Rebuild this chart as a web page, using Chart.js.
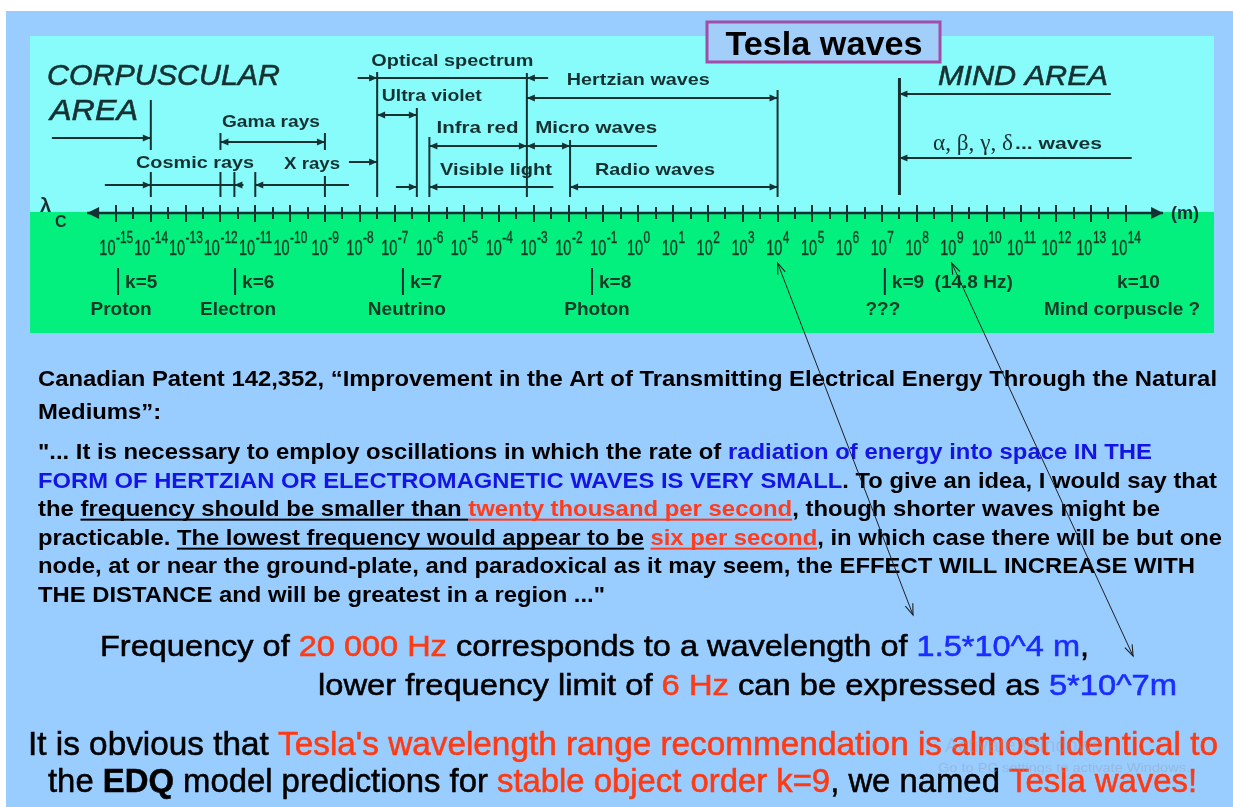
<!DOCTYPE html>
<html>
<head>
<meta charset="utf-8">
<title>Tesla waves</title>
<script src="https://cdn.jsdelivr.net/npm/chart.js@4.4.1/dist/chart.umd.min.js"></script>
<style>
    html, body { margin: 0; padding: 0; background: #ffffff; }
    canvas { display: block; }
</style>
</head>
<body>
<canvas id="graficoOndas" width="1233" height="807"></canvas>
<script>
// expoentes do eixo de comprimento de onda (10^n m)
const expoentes = [-15, -14, -13, -12, -11, -10, -9, -8, -7, -6, -5, -4, -3, -2, -1, 0, 1, 2, 3, 4, 5, 6, 7, 8, 9, 10, 11, 12, 13, 14];

// faixas do espectro, log10 do comprimento de onda em metros
const nomesFaixas = ['Cosmic rays', 'Gama rays', 'X rays', 'Optical spectrum', 'Ultra violet', 'Visible light', 'Infra red', 'Hertzian waves', 'Micro waves', 'Radio waves'];
const inicioFaixas = [-14, -12, -11, -7.5, -7.5, -6.36, -6, -3.2, -3.2, -1.96];
const fimFaixas = [-11.6, -9, -7.5, -3.2, -6.36, -6, -3.2, 4, -1.96, 4];

// limites das areas
const nomesAreas = ['CORPUSCULAR AREA', 'MIND AREA'];
const limitesAreas = [-14, 7.5];

// ordens k do modelo EDQ
const ordensK = [5, 6, 7, 8, 9, 10];
const lambdaK = [-14.94, -11.58, -6.76, -1.33, 7.08, 13.55];
const particulasK = ['Proton', 'Electron', 'Neutrino', 'Photon', '???', 'Mind corpuscle ?'];
const notasK = ['', '', '', '', '(14.8 Hz)', ''];
const barraK = [true, true, true, true, true, false];

// comprimentos de onda apontados pelas setas finas
const lambdaTesla = [4, 9];

// ---- layout ----
const W = 1233, H = 807;
const EIXO_Y = 213;
const PX_DECADA = 34.82, X_MENOS15 = 116;
const xMin = -15 - X_MENOS15 / PX_DECADA;
const xMax = xMin + W / PX_DECADA;

const TINTA = '#163131';
const PRETO = '#000000', AZUL = '#1414e4', VERMELHO = '#ff3c1c';
const SANS = '"Liberation Sans", Arial, sans-serif';
const SERIF = '"Liberation Serif", "DejaVu Serif", serif';

const idx = nome => nomesFaixas.indexOf(nome);
const ini = nome => inicioFaixas[idx(nome)];
const fim = nome => fimFaixas[idx(nome)];

// setas horizontais: [y, de, ate, ponta no inicio, ponta no fim]
const setas = [
    [138, limitesAreas[0] - 2.84, limitesAreas[0], 0, 1],
    [142, ini('Gama rays'), fim('Gama rays'), 1, 1],
    [185, ini('Cosmic rays') - 1.32, ini('Cosmic rays'), 0, 1],
    [185, ini('Cosmic rays'), fim('Cosmic rays'), 0, 0],
    [185, fim('Cosmic rays') + 0.26, fim('Cosmic rays'), 0, 1],
    [185, ini('X rays'), fim('X rays') - 0.81, 1, 0],
    [162, fim('X rays') - 0.81, fim('X rays'), 0, 1],
    [78, ini('Optical spectrum') - 0.56, ini('Optical spectrum'), 0, 1],
    [78, ini('Optical spectrum'), fim('Optical spectrum'), 0, 0],
    [78, fim('Optical spectrum') + 0.61, fim('Optical spectrum'), 0, 1],
    [115, ini('Ultra violet'), fim('Ultra violet'), 1, 1],
    [187, ini('Visible light') - 0.6, ini('Visible light'), 0, 1],
    [187, fim('Visible light'), fim('Visible light') + 3.56, 1, 0],
    [146, ini('Infra red'), fim('Infra red'), 1, 1],
    [98, ini('Hertzian waves'), fim('Hertzian waves'), 1, 1],
    [146, ini('Micro waves'), fim('Micro waves'), 1, 1],
    [146, fim('Micro waves'), fim('Micro waves') + 2.5, 0, 0],
    [187, ini('Radio waves'), fim('Radio waves'), 1, 1],
    [94, limitesAreas[1] + 6.07, limitesAreas[1], 0, 1],
    [158, limitesAreas[1] + 6.67, limitesAreas[1], 0, 1]
];

// divisas verticais: [x, y1, y2]
const divisas = [
    [limitesAreas[0], 100, 150], [limitesAreas[0], 172, 197],
    [ini('Gama rays'), 133, 150], [ini('Gama rays'), 172, 197],
    [fim('Cosmic rays'), 172, 197],
    [ini('X rays'), 172, 197],
    [fim('Gama rays'), 133, 150], [fim('Gama rays'), 176, 197],
    [ini('Optical spectrum'), 72, 197],
    [fim('Ultra violet'), 108, 197],
    [ini('Infra red'), 137, 197],
    [fim('Optical spectrum'), 73, 197],
    [fim('Micro waves'), 140, 197],
    [fim('Hertzian waves'), 90, 197]
];

// rotulos das faixas: [texto, centro (log10 m), linha de base, largura]
const rotulosFaixas = [
    ['Optical spectrum', -5.34, 66, 162],
    ['Hertzian waves', 0, 85, 143],
    ['Ultra violet', -5.93, 101, 100],
    ['Infra red', -4.62, 133, 82],
    ['Micro waves', -1.21, 133, 122],
    ['Visible light', -4.09, 175, 112],
    ['Radio waves', 0.48, 175, 120],
    ['Gama rays', -10.55, 127, 98],
    ['Cosmic rays', -12.73, 168, 118],
    ['X rays', -9.37, 169, 56]
];
const deslocNomes = [3, 3, 4, 5, -2, 12];

// ---- conjuntos de dados ----
const conjuntos = [];
function linha(pontos, largura, pontas, ponta, cor, aberta) {
    conjuntos.push({
        data: pontos,
        borderColor: cor || TINTA,
        borderWidth: largura,
        pointRadius: 0,
        pointHoverRadius: 0,
        fill: false,
        tension: 0,
        pontas: pontas || [0, 0],
        ponta: ponta || [8, 3.5],
        pontaAberta: !!aberta
    });
}

// eixo principal
linha([{x: -15.83, y: EIXO_Y}, {x: 15.07, y: EIXO_Y}], 2.5, [1, 1], [12, 6]);

setas.forEach(s => linha([{x: s[1], y: s[0]}, {x: s[2], y: s[0]}], 2, [s[3], s[4]]));
divisas.forEach(d => linha([{x: d[0], y: d[1]}, {x: d[0], y: d[2]}], 2));
linha([{x: limitesAreas[1], y: 78}, {x: limitesAreas[1], y: 195}], 3);

for (var i = 0; i < ordensK.length; i++) {
    if (barraK[i]) linha([{x: lambdaK[i], y: 268}, {x: lambdaK[i], y: 295}], 2);
}

// setas finas do texto ate o eixo
linha([{x: lambdaTesla[0], y: 263}, {x: 7.89, y: 615}], 1, [1, 1], [11, 4], '#202020', true);
linha([{x: lambdaTesla[1], y: 263}, {x: 14.21, y: 656}], 1, [1, 1], [11, 4], '#202020', true);

// ---- texto ----
function escrever(ctx, texto, x, y, op) {
    ctx.save();
    ctx.font = (op.estilo || 'normal') + ' ' + (op.peso || 'bold') + ' ' + op.tam + 'px ' + (op.familia || SANS);
    ctx.fillStyle = op.cor || TINTA;
    ctx.textBaseline = 'alphabetic';
    ctx.textAlign = 'left';
    const nat = ctx.measureText(texto).width;
    const sx = op.larg ? op.larg / nat : (op.sx || 1);
    const w = nat * sx;
    let x0 = x;
    if (op.alinhar === 'center') x0 = x - w / 2;
    ctx.translate(x0, y);
    ctx.scale(sx, 1);
    ctx.fillText(texto, 0, 0);
    if (op.contorno) {
        ctx.strokeStyle = ctx.fillStyle;
        ctx.lineWidth = op.contorno;
        ctx.strokeText(texto, 0, 0);
    }
    ctx.restore();
    return w;
}

// partes: [texto, cor, sublinhado, peso]; larg nula repete a escala anterior
var escalaAnterior = 1;
function linhaRica(ctx, partes, x, y, tam, peso, larg, contorno) {
    ctx.save();
    ctx.textBaseline = 'alphabetic';
    const fonte = p => (p[3] || peso) + ' ' + tam + 'px ' + SANS;
    const ws = partes.map(p => { ctx.font = fonte(p); return ctx.measureText(p[0]).width; });
    const total = ws.reduce((a, b) => a + b, 0);
    const sx = larg ? larg / total : escalaAnterior;
    escalaAnterior = sx;
    ctx.translate(x, y);
    ctx.scale(sx, 1);
    let cx = 0;
    partes.forEach((p, i) => {
        ctx.font = fonte(p);
        ctx.fillStyle = p[1];
        ctx.fillText(p[0], cx, 0);
        if (contorno) {
            ctx.strokeStyle = p[1];
            ctx.lineWidth = contorno;
            ctx.strokeText(p[0], cx, 0);
        }
        if (p[2]) ctx.fillRect(cx, tam * 0.12, ws[i], 2);
        cx += ws[i];
    });
    ctx.restore();
}

const paragrafo = [
    [[['Canadian Patent 142,352, \u201cImprovement in the Art of Transmitting Electrical Energy Through the Natural', PRETO]], 386, 1179],
    [[['Mediums\u201d:', PRETO]], 419, null],
    [[['"... It is necessary to employ oscillations in which the rate of ', PRETO], ['radiation of energy into space IN THE', AZUL]], 459, 1114],
    [[['FORM OF HERTZIAN OR ELECTROMAGNETIC WAVES IS VERY SMALL', AZUL], ['. To give an idea, I would say that', PRETO]], 488, 1179],
    [[['the ', PRETO], ['frequency should be smaller than ', PRETO, 1], ['twenty thousand per second', VERMELHO, 1], [', though shorter waves might be', PRETO]], 516, 1122],
    [[['practicable. ', PRETO], ['The lowest frequency would appear to be', PRETO, 1], [' ', PRETO], ['six per second', VERMELHO, 1], [', in which case there will be but one', PRETO]], 545, 1184],
    [[['node, at or near the ground-plate, and paradoxical as it may seem, the EFFECT WILL INCREASE WITH', PRETO]], 573, 1157],
    [[['THE DISTANCE and will be greatest in a region ..."', PRETO]], 602, 567]
];

const frases = [
    [[['Frequency of ', PRETO], ['20 000 Hz', '#ff3a12'], [' corresponds to a wavelength of ', PRETO], ['1.5*10^4 m', '#1a2cff'], [',', PRETO]], 100, 656, 30, 989],
    [[['lower frequency limit of ', PRETO], ['6 Hz', '#ff3a12'], [' can be expressed as ', PRETO], ['5*10^7m', '#1a2cff']], 318, 695, 30, 859],
    [[['It is obvious that ', PRETO], ["Tesla's wavelength range recommendation is almost identical to", '#ff3a12']], 28, 755, 33, 1190],
    [[['the ', PRETO], ['EDQ', PRETO, 0, 'bold'], [' model predictions for ', PRETO], ['stable object order k=9', '#ff3a12'], [', we named ', PRETO], ['Tesla waves!', '#ff3a12']], 48, 792, 33, 1149]
];

const fundoPlugin = {
    id: 'fundo',
    beforeDraw(chart) {
        const ctx = chart.ctx;
        ctx.save();
        ctx.fillStyle = '#ffffff';
        ctx.fillRect(0, 0, W, H);
        ctx.fillStyle = '#99ccff';
        ctx.fillRect(6, 11, W - 6, H - 11);
        ctx.fillStyle = '#88fbfb';
        ctx.fillRect(30, 36, 1184, 176);
        ctx.fillStyle = '#04f07e';
        ctx.fillRect(30, 212, 1184, 121);
        ctx.restore();
    }
};

const textosPlugin = {
    id: 'textos',
    beforeDatasetsDraw(chart) {
        const ctx = chart.ctx;
        const xs = chart.scales.x;

        // caixa Tesla waves
        ctx.save();
        ctx.fillStyle = '#a2cefa';
        ctx.fillRect(707, 22, 233, 40);
        ctx.strokeStyle = '#a24ea8';
        ctx.lineWidth = 3;
        ctx.strokeRect(707, 22, 233, 40);
        ctx.restore();
        escrever(ctx, 'Tesla waves', 824, 55, {tam: 34, larg: 197, alinhar: 'center', cor: '#000'});

        const corp = nomesAreas[0].split(' ');
        escrever(ctx, corp[0], 47, 85, {tam: 30, peso: 'normal', estilo: 'italic', larg: 233, contorno: 0.6});
        escrever(ctx, corp[1], 50, 120, {tam: 30, peso: 'normal', estilo: 'italic', larg: 88, contorno: 0.6});
        escrever(ctx, nomesAreas[1], 938, 85, {tam: 28, peso: 'normal', estilo: 'italic', larg: 170, contorno: 0.6});
        escrever(ctx, '\u03b1, \u03b2, \u03b3, \u03b4', 933, 150, {tam: 23, peso: 'normal', familia: SERIF, larg: 80});
        escrever(ctx, '... waves', 1015, 149, {tam: 17, larg: 87});

        rotulosFaixas.forEach(r => {
            escrever(ctx, r[0], xs.getPixelForValue(r[1]), r[2], {tam: 17, larg: r[3], alinhar: 'center'});
        });

        escrever(ctx, '\u03bb', 40, 212, {tam: 20});
        escrever(ctx, 'C', 55, 227, {tam: 16});
        escrever(ctx, '(m)', 1171, 219, {tam: 18});

        // rotulos 10^n
        const corEixo = '#123a26';
        expoentes.forEach(e => {
            const px = xs.getPixelForValue(e);
            ctx.save();
            ctx.font = 'normal 22px ' + SANS;
            const w10 = ctx.measureText('10').width * 0.66;
            ctx.font = 'normal 17px ' + SANS;
            const wE = ctx.measureText(String(e)).width * 0.7;
            ctx.restore();
            const x0 = px - (w10 + wE) / 2;
            escrever(ctx, '10', x0, 255, {tam: 22, peso: 'normal', sx: 0.66, cor: corEixo, contorno: 0.4});
            escrever(ctx, String(e), x0 + w10 + 0.5, 243, {tam: 17, peso: 'normal', sx: 0.7, cor: corEixo, contorno: 0.4});
        });

        // ordens k e particulas
        for (var i = 0; i < ordensK.length; i++) {
            const bx = xs.getPixelForValue(lambdaK[i]);
            const rotulo = 'k=' + ordensK[i] + (notasK[i] ? '  ' + notasK[i] : '');
            escrever(ctx, rotulo, bx + 7, 288, {tam: 19, cor: corEixo});
            escrever(ctx, particulasK[i], bx + deslocNomes[i], 315, {tam: 19, alinhar: 'center', cor: corEixo});
        }

        // citacao da patente
        paragrafo.forEach(p => linhaRica(ctx, p[0], 38, p[1], 22, 'bold', p[2]));
        frases.forEach(f => linhaRica(ctx, f[0], f[1], f[2], f[3], 'normal', f[4], 0.55));

        // marca d'agua
        escrever(ctx, 'Activate Windows', 945, 752, {tam: 20, peso: 'normal', cor: 'rgba(150,160,180,0.35)', larg: 157});
        escrever(ctx, 'Go to PC settings to activate Windows.', 938, 772, {tam: 12, peso: 'normal', cor: 'rgba(150,160,180,0.45)', larg: 252});
    }
};

function desenharPonta(ctx, x0, y0, x1, y1, tam, aberta, cor) {
    const ang = Math.atan2(y1 - y0, x1 - x0);
    ctx.save();
    ctx.translate(x1, y1);
    ctx.rotate(ang);
    ctx.beginPath();
    ctx.moveTo(-tam[0], -tam[1]);
    ctx.lineTo(0, 0);
    ctx.lineTo(-tam[0], tam[1]);
    if (aberta) {
        ctx.strokeStyle = cor;
        ctx.lineWidth = 1.1;
        ctx.stroke();
    } else {
        ctx.closePath();
        ctx.fillStyle = cor;
        ctx.fill();
    }
    ctx.restore();
}

const pontasPlugin = {
    id: 'pontas',
    afterDatasetsDraw(chart) {
        const ctx = chart.ctx;
        chart.data.datasets.forEach((ds, i) => {
            if (!ds.pontas[0] && !ds.pontas[1]) return;
            const pts = chart.getDatasetMeta(i).data;
            const a = pts[0], b = pts[pts.length - 1];
            if (ds.pontas[0]) desenharPonta(ctx, b.x, b.y, a.x, a.y, ds.ponta, ds.pontaAberta, ds.borderColor);
            if (ds.pontas[1]) desenharPonta(ctx, a.x, a.y, b.x, b.y, ds.ponta, ds.pontaAberta, ds.borderColor);
        });
    }
};

function eixoTicks(posY, comp, valores) {
    return {
        type: 'linear',
        axis: 'x',
        min: xMin,
        max: xMax,
        bounds: 'data',
        position: { y: posY },
        border: { display: false },
        grid: { drawOnChartArea: false, drawTicks: true, tickLength: comp, tickWidth: 2, tickColor: TINTA, lineWidth: 2, color: TINTA },
        ticks: { display: false },
        afterBuildTicks: escala => { escala.ticks = valores.map(v => ({ value: v })); }
    };
}

const menores = expoentes.slice(0, -1).map(e => e + 0.5);

var configuracao = {
    type: 'line',
    data: { datasets: conjuntos },
    options: {
        responsive: false,
        animation: false,
        events: [],
        layout: { padding: 0 },
        plugins: {
            legend: { display: false },
            tooltip: { enabled: false }
        },
        scales: {
            x: eixoTicks(EIXO_Y, 9, expoentes),
            xMaiorCima: eixoTicks(EIXO_Y - 8, 8, expoentes),
            xMenorBaixo: eixoTicks(EIXO_Y, 6, menores),
            xMenorCima: eixoTicks(EIXO_Y - 6, 6, menores),
            y: { type: 'linear', min: 0, max: H, reverse: true, display: false }
        }
    },
    plugins: [fundoPlugin, textosPlugin, pontasPlugin]
};

var graficoOndas = new Chart(document.getElementById('graficoOndas'), configuracao);
</script>
</body>
</html>
